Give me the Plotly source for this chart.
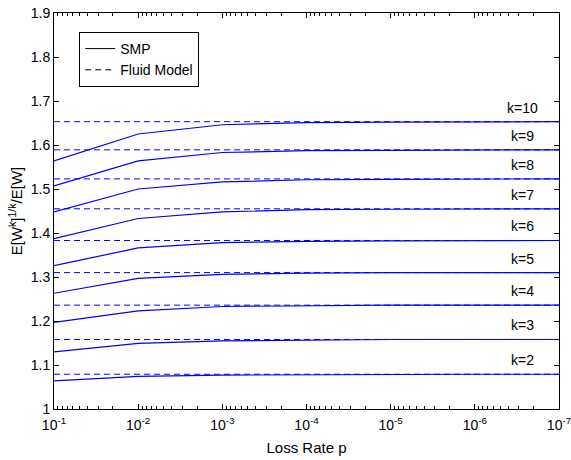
import plotly.graph_objects as go

# ---- data ----
loss_rate = [1e-1, 1e-2, 1e-3, 1e-4, 1e-5, 1e-6, 1e-7]
k_values = [2, 3, 4, 5, 6, 7, 8, 9, 10]
fluid_model = [1.079, 1.158, 1.236, 1.310, 1.383, 1.455, 1.523, 1.589, 1.653]
smp_k2 = [1.064, 1.074, 1.077, 1.078, 1.079, 1.079, 1.079]
smp_k3 = [1.130, 1.149, 1.155, 1.157, 1.158, 1.158, 1.158]
smp_k4 = [1.197, 1.223, 1.233, 1.235, 1.236, 1.236, 1.236]
smp_k5 = [1.263, 1.297, 1.306, 1.309, 1.310, 1.310, 1.310]
smp_k6 = [1.326, 1.366, 1.378, 1.381, 1.382, 1.383, 1.383]
smp_k7 = [1.387, 1.433, 1.448, 1.453, 1.454, 1.455, 1.455]
smp_k8 = [1.448, 1.500, 1.516, 1.521, 1.522, 1.523, 1.523]
smp_k9 = [1.507, 1.564, 1.583, 1.587, 1.588, 1.589, 1.589]
smp_k10 = [1.564, 1.625, 1.646, 1.651, 1.652, 1.653, 1.653]
smp_series = [smp_k2, smp_k3, smp_k4, smp_k5, smp_k6, smp_k7, smp_k8, smp_k9, smp_k10]
x_tick_vals = [1e-1, 1e-2, 1e-3, 1e-4, 1e-5, 1e-6, 1e-7]
x_tick_text = ["10<sup>-1</sup>", "10<sup>-2</sup>", "10<sup>-3</sup>", "10<sup>-4</sup>",
               "10<sup>-5</sup>", "10<sup>-6</sup>", "10<sup>-7</sup>"]
y_tick_vals = [1, 1.1, 1.2, 1.3, 1.4, 1.5, 1.6, 1.7, 1.8, 1.9]
y_tick_text = ["1", "1.1", "1.2", "1.3", "1.4", "1.5", "1.6", "1.7", "1.8", "1.9"]

# minor tick positions (2..9 within each decade)
x_minor_vals = [m * d for d in [1e-2, 1e-3, 1e-4, 1e-5, 1e-6, 1e-7] for m in range(2, 10)]

BLUE = "#0000ff"
FONT = "Liberation Sans, Arial, sans-serif"

fig = go.Figure()

for k, fv in zip(k_values, fluid_model):
    fig.add_trace(go.Scatter(x=[loss_rate[0], loss_rate[-1]], y=[fv, fv], mode="lines",
                             line=dict(color=BLUE, width=1, dash="6px,4px"),
                             showlegend=False, hoverinfo="skip"))
for k, s in zip(k_values, smp_series):
    fig.add_trace(go.Scatter(x=loss_rate, y=s, mode="lines",
                             line=dict(color=BLUE, width=1.2),
                             showlegend=False, hoverinfo="skip"))

# legend entries (black, as in the reference)
fig.add_trace(go.Scatter(x=[None], y=[None], mode="lines", name="SMP",
                         line=dict(color="black", width=1)))
fig.add_trace(go.Scatter(x=[None], y=[None], mode="lines", name="Fluid Model",
                         line=dict(color="black", width=1, dash="6px,4px")))

for k, fv in zip(k_values, fluid_model):
    fig.add_annotation(x=0.927, xref="paper", y=fv, yref="y", text=f"k={k}",
                       showarrow=False, xanchor="center", yanchor="middle", yshift=14,
                       font=dict(family=FONT, size=14, color="black"))

fig.update_layout(
    width=571, height=460,
    margin=dict(l=54, r=12, t=13, b=51, autoexpand=False),
    paper_bgcolor="white", plot_bgcolor="white",
    font=dict(family=FONT, size=14, color="black"),
    legend=dict(x=0.05, y=0.952, xanchor="left", yanchor="top",
                bordercolor="black", borderwidth=1, bgcolor="white",
                font=dict(family=FONT, size=14), tracegroupgap=0, itemwidth=30),
    showlegend=True,
)
fig.update_xaxes(type="log", range=[-1, -7], autorange=False, automargin=False,
                 tickvals=x_tick_vals, ticktext=x_tick_text,
                 ticks="inside", ticklen=5, tickcolor="black",
                 minor=dict(tickvals=x_minor_vals, ticks="inside", ticklen=3,
                            tickcolor="black", showgrid=False),
                 showline=True, linecolor="black", linewidth=1, mirror="allticks",
                 showgrid=False, zeroline=False, ticklabelstandoff=3,
                 ticklabeloverflow="allow",
                 tickfont=dict(size=14),
                 title=dict(text="Loss Rate p", font=dict(size=15), standoff=10))
fig.update_yaxes(range=[1, 1.9], autorange=False, automargin=False,
                 tickvals=y_tick_vals, ticktext=y_tick_text,
                 ticks="inside", ticklen=5, tickcolor="black",
                 showline=True, linecolor="black", linewidth=1, mirror="allticks",
                 showgrid=False, zeroline=False, ticklabeloverflow="allow",
                 tickfont=dict(size=14),
                 title=dict(text="E[W<sup>k</sup>]<sup>1/k</sup>/E[W]", font=dict(size=15), standoff=4))

fig.write_html("out.html", config={"displayModeBar": False},
               post_script="document.body.style.margin='0';document.body.style.overflow='hidden';")
